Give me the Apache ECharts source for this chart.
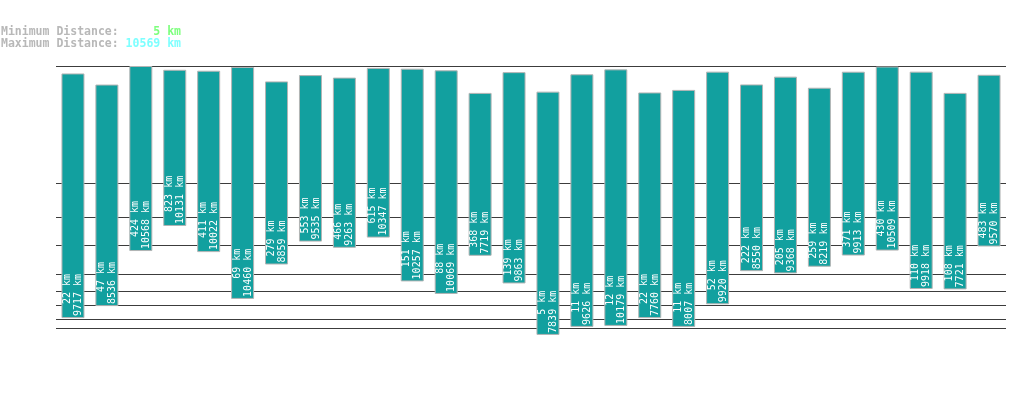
<!DOCTYPE html>
<html>
<head>
<meta charset="utf-8">
<script src="https://cdn.jsdelivr.net/npm/echarts@6/dist/echarts.min.js"></script>
<style>
  html, body { margin: 0; padding: 0; background: #fff; }
  #chart { width: 1019px; height: 402px; }
</style>
</head>
<body>
<div id="chart"></div>
<script>
// min / max distance for each entry
var categories = ['1','2','3','4','5','6','7','8','9','10','11','12','13','14','15','16','17','18','19','20','21','22','23','24','25','26','27','28'];
var minKm = [22, 47, 424, 823, 411, 69, 279, 553, 466, 615, 151, 88, 368, 139, 5, 11, 12, 22, 11, 52, 222, 205, 259, 371, 430, 110, 108, 483];
var maxKm = [9717, 8536, 10568, 10131, 10022, 10460, 8859, 9535, 9263, 10347, 10257, 10069, 7719, 9863, 7839, 9626, 10179, 7760, 8007, 9920, 8550, 9368, 8219, 9913, 10509, 9918, 7721, 9570];
var gridValues = [10, 20, 50, 100, 200, 500, 1000, 2000];
// summary shown in the header
var headerMin = 5;
var headerMax = 10569;

var EXP = 0.3; // power scale
function sc(v) { return Math.pow(v, EXP); }

var baseData = minKm.map(function (v) { return sc(v); });
var rangeData = maxKm.map(function (v, i) { return sc(v) - sc(minKm[i]); });

var lines = gridValues.concat([headerMax]).map(function (v) { return { yAxis: sc(v) }; });

function pad(s, n) { s = String(s); while (s.length < n) s = ' ' + s; return s; }

var dom = document.getElementById('chart');
var myChart = echarts.init(dom);

var mono = '"DejaVu Sans Mono", "Liberation Mono", monospace';

option = {
    animation: false,
    title: {
        left: 1,
        top: 26,
        padding: 0,
        text: '{l|Minimum Distance: }{g|' + pad(headerMin, 5) + ' km}\n' +
              '{l|Maximum Distance: }{c|' + pad(headerMax, 5) + ' km}',
        textStyle: {
            fontFamily: mono,
            fontSize: 11.5,
            fontWeight: 'bold',
            lineHeight: 12,
            rich: {
                l: { color: '#b8b8b8', fontFamily: mono, fontSize: 11.5, fontWeight: 'bold', lineHeight: 12 },
                g: { color: '#7dff7d', fontFamily: mono, fontSize: 11.5, fontWeight: 'bold', lineHeight: 12 },
                c: { color: '#7dffff', fontFamily: mono, fontSize: 11.5, fontWeight: 'bold', lineHeight: 12 }
            }
        }
    },
    grid: {
        left: 56,
        right: 13,
        top: 66,
        bottom: 37
    },
    xAxis: {
        type: 'category',
        data: categories,
        show: false
    },
    yAxis: {
        type: 'value',
        min: 0,
        max: sc(headerMax),
        show: false,
        splitLine: { show: false }
    },
    series: [
        {
            // invisible base so the bars float
            type: 'bar',
            stack: 'd',
            z: 1,
            itemStyle: { color: 'transparent' },
            data: baseData,
            silent: true,
            markLine: {
                z: 0,
                silent: true,
                symbol: 'none',
                label: { show: false },
                lineStyle: { color: '#3c3c3c', width: 1, type: 'solid' },
                data: lines
            }
        },
        {
            type: 'bar',
            stack: 'd',
            z: 3,
            barWidth: 23,
            itemStyle: {
                color: '#12a09f',
                borderColor: '#b4b4b4',
                borderWidth: 1
            },
            label: {
                show: true,
                position: 'insideBottom',
                rotate: 90,
                align: 'left',
                verticalAlign: 'middle',
                distance: 2,
                color: '#ffffff',
                fontFamily: mono,
                fontSize: 10,
                lineHeight: 11,
                formatter: function (p) {
                    var a = minKm[p.dataIndex] + ' km';
                    var b = maxKm[p.dataIndex] + ' km';
                    var n = Math.max(a.length, b.length);
                    return pad(a, n) + '\n' + pad(b, n);
                }
            },
            data: rangeData
        }
    ]
};
if (option && typeof option === "object") {
    myChart.setOption(option, true);
}
</script>
</body>
</html>
